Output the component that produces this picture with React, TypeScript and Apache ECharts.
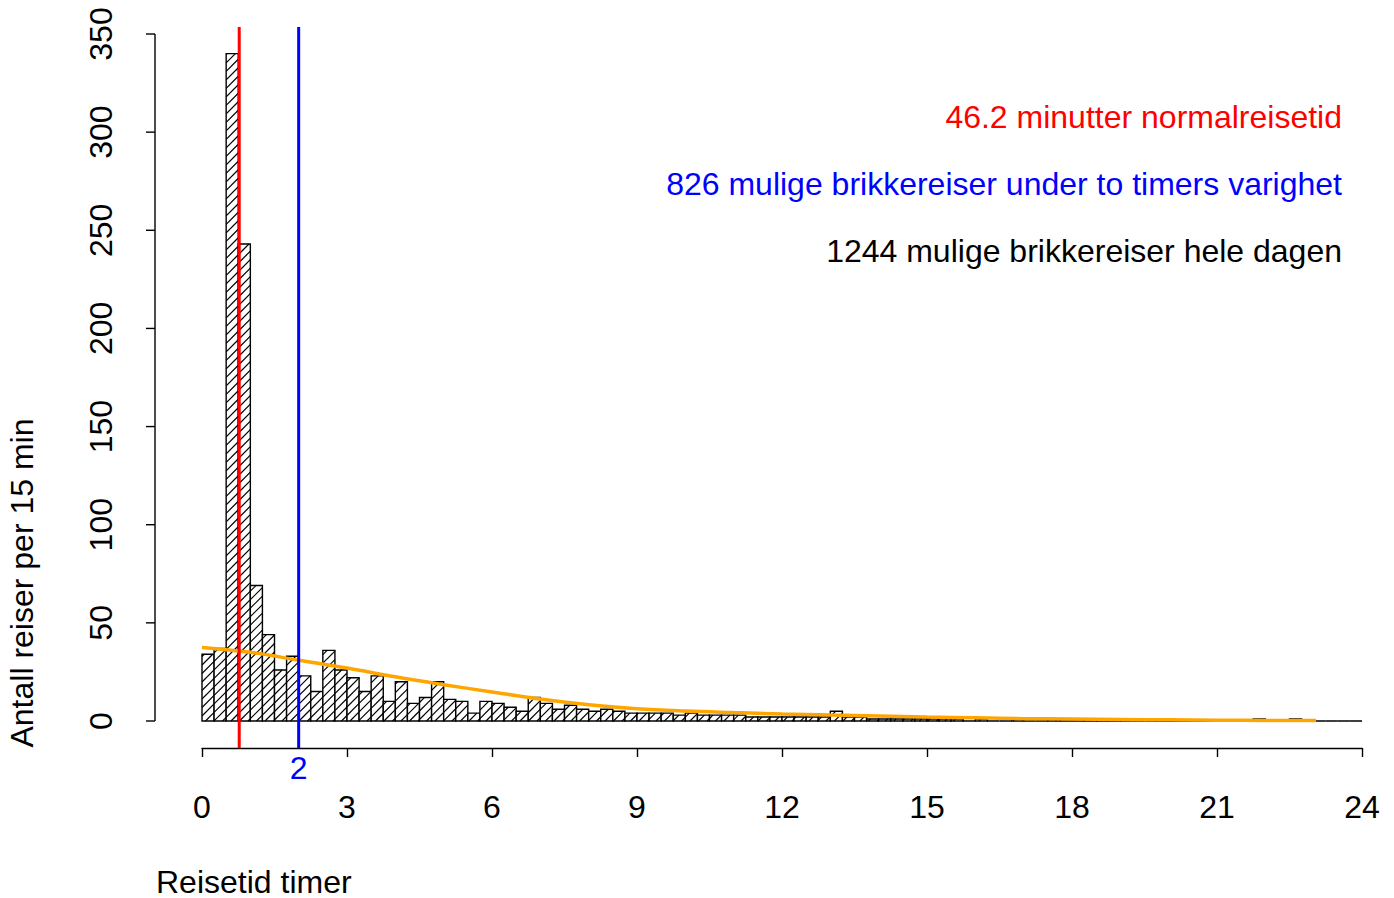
import React, { useEffect, useRef } from 'react';
import * as echarts from 'echarts';

// Histogram: number of trips per 15-minute bin (hours 0–24)
const binWidth = 0.25;
const counts: number[] = [
  34, 37, 340, 243, 69, 44, 26, 33, 23, 15,
  36, 26, 22, 15, 23, 10, 20, 9, 12, 20,
  11, 10, 4, 10, 9, 7, 5, 12, 9, 6,
  8, 6, 5, 6, 5, 4, 4, 4, 4, 3,
  4, 3, 3, 3, 3, 2, 2, 2, 2, 2,
  2, 2, 5, 2, 2, 1, 1, 1, 1, 1,
  1, 1, 1, 0, 1, 0, 0, 1, 0, 0,
  1, 0, 0, 1, 0, 1, 0, 0, 0, 1,
  0, 0, 0, 0, 0, 0, 0, 1, 0, 0,
  1, 0, 0, 0, 0, 0,
];

// Fitted curve (orange)
const curveX: number[] = [0, 1, 2, 3, 4, 5, 6, 7, 8, 9, 10, 11, 12, 13, 14, 15, 16, 17, 18, 19, 20, 21, 22, 23.05];
const curveY: number[] = [37.5, 35, 31, 27, 22.5, 18.5, 14.8, 11.2, 8.3, 6.3, 5.1, 4.3, 3.6, 3.0, 2.5, 2.0, 1.6, 1.2, 1.0, 0.8, 0.6, 0.4, 0.3, 0.2];

// Y axis ticks
const yTicks: number[] = [0, 50, 100, 150, 200, 250, 300, 350];

// Reference lines
const refLineX: number[] = [0.77, 2];
const refLineColors: string[] = ['#FF0000', '#0000FF'];
const refLineLabels: string[] = ['', '2'];

// Annotations
const noteTexts: string[] = [
  '46.2 minutter normalreisetid',
  '826 mulige brikkereiser under to timers varighet',
  '1244 mulige brikkereiser hele dagen',
];
const noteColors: string[] = ['#FF0000', '#0000FF', '#000000'];

const xAxisTitle = 'Reisetid timer';
const yAxisTitle = 'Antall reiser per 15 min';

const FONT_FAMILY = '"Liberation Sans", Arial, Helvetica, sans-serif';
const FS = 32;

export default function App() {
  const ref = useRef<HTMLDivElement>(null);

  useEffect(() => {
    const chart = echarts.init(ref.current!, null, { renderer: 'svg' });

    const histData = counts.map((c, i) => [i * binWidth, (i + 1) * binWidth, c]);
    const curveData = curveX.map((x, i) => [x, curveY[i]]);
    const refData = refLineX.map((x) => [x]);

    const option: any = {
      animation: false,
      backgroundColor: '#ffffff',
      grid: { left: 202, right: 32, top: 34, bottom: 177, containLabel: false },
      xAxis: {
        type: 'value',
        min: 0,
        max: 24,
        interval: 3,
        offset: 27,
        axisLine: { show: true, onZero: false, lineStyle: { color: '#000', width: 1.4 } },
        axisTick: { show: true, length: 9, lineStyle: { color: '#000', width: 1.4 } },
        axisLabel: { color: '#000', fontSize: FS, fontFamily: FONT_FAMILY, margin: 43 },
        splitLine: { show: false },
      },
      yAxis: {
        type: 'value',
        min: 0,
        max: 350,
        interval: 50,
        offset: 47,
        axisLine: { show: false },
        axisTick: { show: false },
        axisLabel: { color: '#000', fontSize: FS, fontFamily: FONT_FAMILY, rotate: 90, margin: 38 },
        splitLine: { show: false },
      },
      series: [
        {
          type: 'custom',
          z: 2,
          clip: false,
          data: histData,
          renderItem: (params: any, api: any) => {
            const x0 = api.value(0);
            const x1 = api.value(1);
            const v = api.value(2);
            const tl = api.coord([x0, v]);
            const br = api.coord([x1, 0]);
            const xl = tl[0];
            const xr = br[0];
            const yt = tl[1];
            const yb = br[1];
            const children: any[] = [
              {
                type: 'rect',
                shape: { x: xl, y: yt, width: xr - xl, height: yb - yt },
                style: { fill: '#fff', stroke: 'none' },
              },
            ];
            const step = 8.5;
            const cStart = Math.ceil((xl + yt) / step) * step;
            for (let c = cStart; c <= xr + yb; c += step) {
              const xa = Math.max(xl, c - yb);
              const xb = Math.min(xr, c - yt);
              if (xb - xa > 0.3) {
                children.push({
                  type: 'line',
                  shape: { x1: xa, y1: c - xa, x2: xb, y2: c - xb },
                  style: { stroke: '#000', lineWidth: 1.2 },
                });
              }
            }
            children.push({
              type: 'rect',
              shape: { x: xl, y: yt, width: xr - xl, height: yb - yt },
              style: { fill: 'none', stroke: '#000', lineWidth: 1.4 },
            });
            return { type: 'group', children };
          },
        },
        {
          type: 'line',
          z: 3,
          data: curveData,
          smooth: 0.4,
          showSymbol: false,
          symbol: 'none',
          lineStyle: { color: '#FFA500', width: 3.5 },
        },
        {
          type: 'custom',
          z: 4,
          clip: false,
          data: refData,
          renderItem: (params: any, api: any) => {
            const p = api.coord([api.value(0), 0]);
            const cs = params.coordSys;
            const color = refLineColors[params.dataIndex];
            const label = refLineLabels[params.dataIndex];
            const children: any[] = [
              {
                type: 'line',
                shape: { x1: p[0], y1: cs.y - 7, x2: p[0], y2: cs.y + cs.height + 27 },
                style: { stroke: color, lineWidth: 3 },
              },
            ];
            if (label) {
              children.push({
                type: 'text',
                x: p[0],
                y: cs.y + cs.height + 47,
                style: {
                  text: label,
                  fill: color,
                  font: `${FS}px ${FONT_FAMILY}`,
                  align: 'center',
                  verticalAlign: 'middle',
                },
              });
            }
            // y axis line and ticks (drawn once, offset to the left of the plot)
            if (params.dataIndex === 0) {
              const ax = cs.x - 47;
              const yBottom = api.coord([0, yTicks[0]])[1];
              const yTop = api.coord([0, yTicks[yTicks.length - 1]])[1];
              children.push({
                type: 'line',
                shape: { x1: ax, y1: yBottom, x2: ax, y2: yTop },
                style: { stroke: '#000', lineWidth: 1.4 },
              });
              yTicks.forEach((t) => {
                const ty = api.coord([0, t])[1];
                children.push({
                  type: 'line',
                  shape: { x1: ax - 9, y1: ty, x2: ax, y2: ty },
                  style: { stroke: '#000', lineWidth: 1.4 },
                });
              });
            }
            return { type: 'group', children };
          },
        },
      ],
      graphic: [
        ...noteTexts.map((t, i) => ({
          type: 'text',
          x: 1342,
          y: 117 + i * 67,
          style: {
            text: t,
            fill: noteColors[i],
            font: `${FS}px ${FONT_FAMILY}`,
            textAlign: 'right',
            textVerticalAlign: 'middle',
          },
        })),
        {
          type: 'text',
          x: 156,
          y: 882,
          style: {
            text: xAxisTitle,
            fill: '#000',
            font: `${FS}px ${FONT_FAMILY}`,
            lineHeight: 28,
            textAlign: 'left',
            textVerticalAlign: 'middle',
          },
        },
        {
          type: 'text',
          x: 22,
          y: 583,
          rotation: Math.PI / 2,
          style: {
            text: yAxisTitle,
            fill: '#000',
            font: `${FS}px ${FONT_FAMILY}`,
            textAlign: 'center',
            textVerticalAlign: 'middle',
          },
        },
      ],
    };

    chart.setOption(option);
    return () => chart.dispose();
  }, []);

  return (
    <div
      ref={ref}
      style={{ position: 'absolute', left: 0, top: 0, width: 1394, height: 898 }}
    />
  );
}
